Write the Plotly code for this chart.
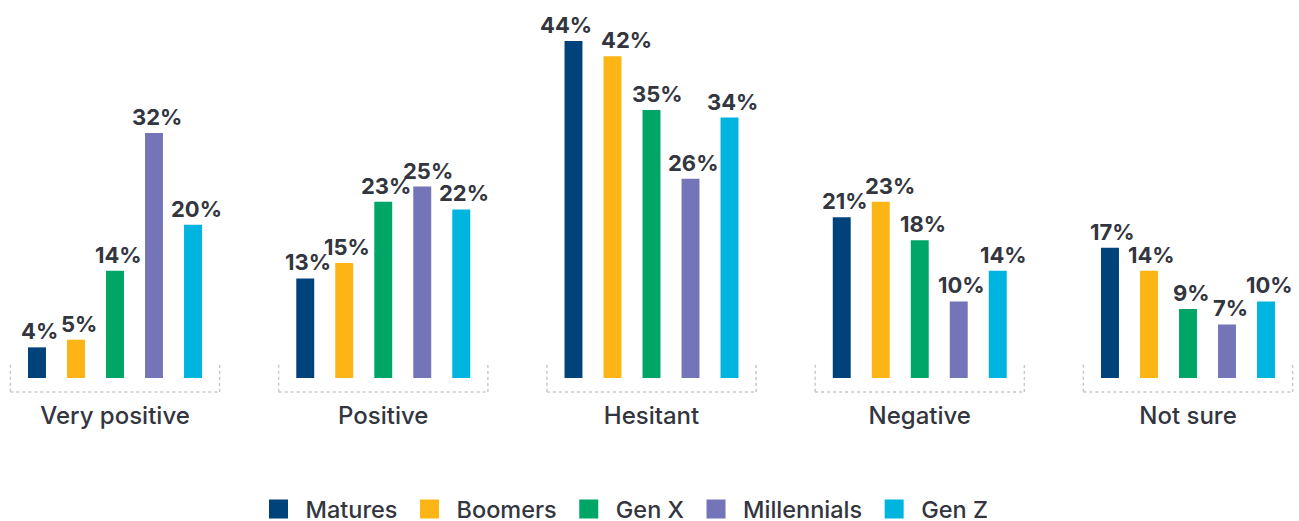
import plotly.graph_objects as go

categories = ["Very positive", "Positive", "Hesitant", "Negative", "Not sure"]
generations = ["Matures", "Boomers", "Gen X", "Millennials", "Gen Z"]
colors = ["#00427a", "#fdb515", "#00a665", "#7474b8", "#00b4e0"]

matures = [4, 13, 44, 21, 17]
boomers = [5, 15, 42, 23, 14]
gen_x = [14, 23, 35, 18, 9]
millennials = [32, 25, 26, 10, 7]
gen_z = [20, 22, 34, 14, 10]
series = [matures, boomers, gen_x, millennials, gen_z]

TEXT = "#33363f"
FONT = "Inter"
x_pos = list(range(len(categories)))

BARGAP = 0.273
slot = (1 - BARGAP) / len(generations)

# horizontal nudges (px) for value labels, keyed by (series, category)
label_nudge = {(0, 2): -7, (1, 2): 14, (2, 2): 6, (3, 1): 6, (1, 3): 9, (4, 3): 6}
DEFAULT_NUDGE = 3

fig = go.Figure()
for j, (name, vals, col) in enumerate(zip(generations, series, colors)):
    fig.add_trace(go.Bar(
        x=x_pos, y=vals, name=name, marker_color=col, marker_line_width=0,
        cliponaxis=False, showlegend=False, legendgroup=name,
    ))
    for i, v in enumerate(vals):
        fig.add_annotation(
            x=i + (j - (len(generations) - 1) / 2) * slot, y=v,
            text=f"{v}%", showarrow=False, yanchor="bottom", yshift=1,
            xshift=label_nudge.get((j, i), DEFAULT_NUDGE),
            font=dict(family=FONT, size=22, color=TEXT, weight="bold"),
        )

# legend entries with larger square swatches
for name, col in zip(generations, colors):
    fig.add_trace(go.Scatter(
        x=[None], y=[None], mode="markers", name=name, legendgroup=name,
        marker=dict(symbol="square", size=16, color=col, line=dict(color=col, width=3)),
    ))

# dotted bracket beneath each category group
half = 0.39
for i in x_pos:
    for x0, y0, x1, y1 in [
        (i - half, 0.035, i - half, -0.037),
        (i - half, -0.037, i + half, -0.037),
        (i + half, -0.037, i + half, 0.035),
    ]:
        fig.add_shape(type="line", xref="x", yref="paper",
                      x0=x0, y0=y0, x1=x1, y1=y1,
                      line=dict(color="#c8c8c8", width=1.5, dash="dot"))

fig.update_layout(
    width=1299, height=521,
    margin=dict(l=0, r=0, t=0, b=143, autoexpand=False),
    paper_bgcolor="white", plot_bgcolor="white",
    barmode="group", bargap=BARGAP, bargroupgap=0.54,
    font=dict(family=FONT, color=TEXT),
    xaxis=dict(range=[-0.4287, 4.4138], tickvals=x_pos, ticktext=categories,
               showgrid=False, zeroline=False, showline=False, ticks="",
               automargin=False,
               tickfont=dict(size=24, color=TEXT, weight=500), ticklabelstandoff=21),
    yaxis=dict(range=[0, 49.35], visible=False),
    legend=dict(orientation="h", x=0.1936, xanchor="left", y=-0.347, yanchor="middle",
                font=dict(size=23.5, color=TEXT, weight=500), itemclick=False,
                itemwidth=44),
    showlegend=True,
)

fig.write_html("out.html")
